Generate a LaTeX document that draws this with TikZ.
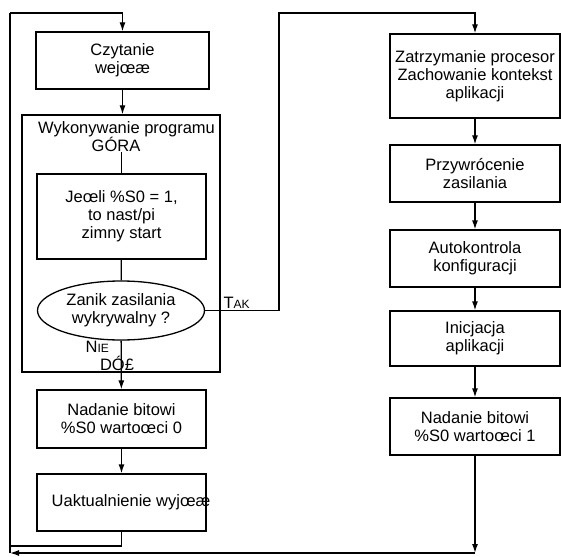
\documentclass[tikz,border=0pt]{standalone}
\usepackage{fontspec}
\setmainfont{Liberation Sans}
\usetikzlibrary{shapes.geometric, arrows.meta}

\begin{document}
\begin{tikzpicture}[x=1pt, y=-1pt, line width=1.3pt,
        font=\fontsize{16.5}{18}\selectfont,
        box/.style={draw, rectangle, align=center, inner sep=0pt},
        decision/.style={draw, ellipse, align=center, inner sep=0pt},
        tag/.style={inner sep=0pt, anchor=base west},
        >={Latex[length=9pt, width=6pt]}]
            \useasboundingbox (0, 0) rectangle (561, 556);

            % lewa kolumna
            \node[box, minimum width=173, minimum height=57] (czyt) at (122.5, 60.5) {Czytanie\\ wejœæ};
            \node[draw, rectangle, minimum width=198, minimum height=257] (prog) at (121, 243.5) {};
            \node[inner sep=0pt] (progt) at (126.5, 129) {Wykonywanie programu};
            \node[inner sep=0pt] (gora) at (116, 144) {GÓRA};
            \node[box, minimum width=169, minimum height=85] (jesli) at (121.5, 216.5) {Jeœli \%S0 = 1,\\ to nast/pi\\ zimny start};
            \node[decision, minimum width=167, minimum height=59] (zanik) at (121, 310.5) {Zanik zasilania\\ wykrywalny ?};
            \node[box, minimum width=169, minimum height=58] (nad0) at (121.5, 419) {Nadanie bitowi\\ \%S0 wartoœci 0};
            \node[draw, rectangle, minimum width=169, minimum height=57] (uakt) at (121.5, 502.5) {};
            \node[inner sep=0pt] (uaktt) at (131, 502.5) {Uaktualnienie wyjœæ};

            % prawa kolumna
            \node[box, minimum width=170, minimum height=84] (zatrz) at (475, 76) {Zatrzymanie procesor\\ Zachowanie kontekst\\ aplikacji};
            \node[box, minimum width=170, minimum height=57] (przyw) at (475, 173.5) {Przywrócenie\\ zasilania};
            \node[box, minimum width=170, minimum height=57] (auto) at (475, 258.5) {Autokontrola\\ konfiguracji};
            \node[box, minimum width=170, minimum height=55] (inic) at (475, 338.5) {Inicjacja\\ aplikacji};
            \node[box, minimum width=170, minimum height=57] (nad1) at (475, 426.5) {Nadanie bitowi\\ \%S0 wartoœci 1};

            % etykiety
            \node[tag] (tak) at (223, 308) {T{\fontsize{12}{12}\selectfont AK}};
            \node[tag] (nie) at (85, 352) {N{\fontsize{12}{12}\selectfont IE}};
            \node[inner sep=0pt] (dol) at (117, 363) {DÓ£};

            \coordinate (ltop) at (10, 13);
            \coordinate (lbot) at (10, 553);
            \coordinate (lret) at (10, 546);
            \coordinate (rbot) at (475, 553);
            \coordinate (tak1) at (279, 13);

            \draw[->] (ltop) -| (czyt.north);
            \draw[->] (czyt) -- (prog.north -| czyt);
            \draw (gora.south -| jesli) -- (jesli);
            \draw (jesli) -- (zanik);
            \draw[->] (zanik) -- (nad0);
            \draw[->] (nad0) -- (uakt);
            \draw (uakt) |- (lret);
            \draw (lbot) -- (ltop);

            \draw[->] (zanik.east) -| (tak1) -| (zatrz.north);
            \draw[->] (zatrz) -- (przyw);
            \draw[->] (przyw) -- (auto);
            \draw[->] (auto) -- (inic);
            \draw[->] (inic) -- (nad1);
            \draw[->] (nad1) -- (rbot);
            \draw[->] (rbot) -- (lbot);
    	\end{tikzpicture}
\end{document}
